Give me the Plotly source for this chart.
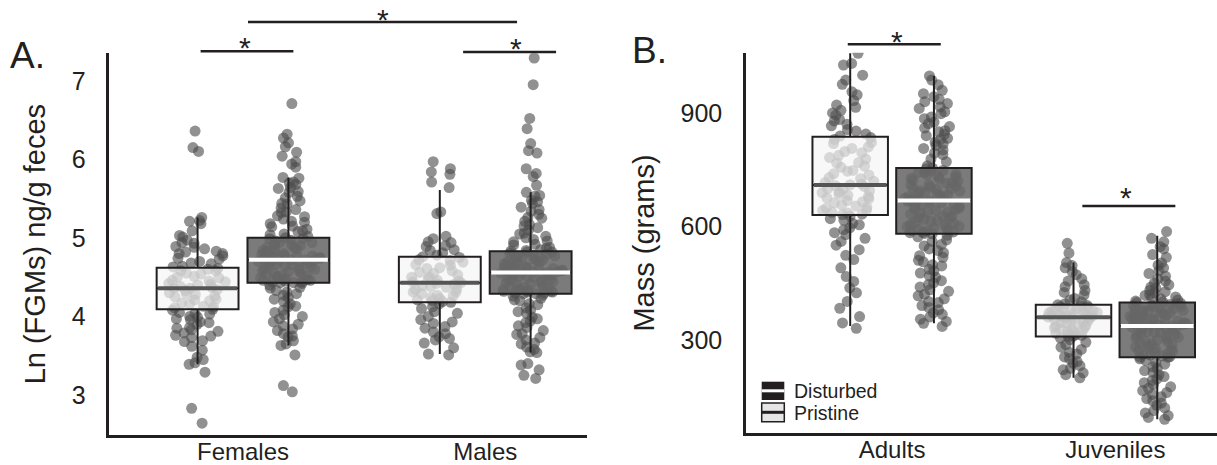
import plotly.graph_objects as go

FONT = "Liberation Sans, Arial, sans-serif"
INK = "#231f20"

# ---------------- categories / ticks ----------------
sexes = ["Females", "Males"]
ages = ["Adults", "Juveniles"]
fgm_ticks = [3, 4, 5, 6, 7]
mass_ticks = [300, 600, 900]
legend_labels = ["Disturbed", "Pristine"]

# ---------------- Panel A: Ln(FGMs) values ----------------
fgm_female_pristine = [6.36, 6.15, 6.10, 5.26, 5.22, 5.21, 5.18, 5.09, 5.03, 5.01, 4.97, 4.94, 4.93, 4.89, 4.88,
    4.86, 4.83, 4.82, 4.80, 4.80, 4.77, 4.74, 4.73, 4.70, 4.68, 4.67, 4.64, 4.63, 4.61, 4.60, 4.58, 4.58, 4.55,
    4.54, 4.51, 4.50, 4.49, 4.46, 4.45, 4.44, 4.42, 4.41, 4.40, 4.38, 4.37, 4.36, 4.36, 4.34, 4.33, 4.30, 4.29,
    4.28, 4.26, 4.25, 4.22, 4.21, 4.20, 4.17, 4.16, 4.13, 4.12, 4.11, 4.09, 4.08, 4.05, 4.04, 4.03, 4.00, 3.99,
    3.97, 3.96, 3.93, 3.92, 3.90, 3.86, 3.85, 3.83, 3.81, 3.79, 3.76, 3.75, 3.73, 3.69, 3.68, 3.62, 3.57, 3.48,
    3.45, 3.41, 3.39, 3.29, 2.83, 2.64]
fgm_female_disturbed = [6.71, 6.32, 6.27, 6.21, 6.16, 6.09, 6.04, 5.97, 5.94, 5.90,
    5.77, 5.76, 5.71, 5.70, 5.68, 5.64, 5.63, 5.59, 5.58, 5.53, 5.51, 5.47, 5.44, 5.43, 5.38, 5.36, 5.33, 5.32,
    5.28, 5.27, 5.24, 5.21, 5.20, 5.18, 5.15, 5.14, 5.11, 5.09, 5.08, 5.05, 5.04, 5.02,
    5.00, 4.99, 4.99, 4.97, 4.96, 4.94, 4.94, 4.92, 4.91, 4.90, 4.88, 4.88, 4.86, 4.85, 4.84, 4.83, 4.82, 4.80,
    4.80, 4.79, 4.78, 4.77, 4.77, 4.76, 4.75, 4.75, 4.74, 4.73, 4.73, 4.72, 4.72, 4.72,
    4.71, 4.70, 4.70, 4.69, 4.68, 4.67, 4.67, 4.66, 4.64, 4.64, 4.63, 4.61, 4.61, 4.60, 4.58, 4.58, 4.57, 4.55,
    4.55, 4.54, 4.52, 4.52, 4.51, 4.49, 4.49, 4.48, 4.47, 4.46, 4.46, 4.45, 4.44, 4.44, 4.43, 4.43,
    4.42, 4.40, 4.37, 4.36, 4.33, 4.31, 4.29, 4.27, 4.24, 4.22, 4.19, 4.16, 4.13, 4.12, 4.08, 4.05, 4.02, 4.00,
    3.97, 3.93, 3.90, 3.88, 3.84, 3.82, 3.78, 3.75, 3.74, 3.69, 3.65, 3.63, 3.51, 3.12, 3.04]
fgm_male_pristine = [5.97, 5.88, 5.84, 5.81, 5.71, 5.64, 5.33, 5.31, 5.02, 4.99, 4.95, 4.94, 4.90, 4.89, 4.85,
    4.84, 4.81, 4.78,
    4.76, 4.75, 4.72, 4.71, 4.69, 4.66, 4.65, 4.62, 4.61, 4.58, 4.56, 4.55, 4.53, 4.50, 4.50, 4.48, 4.46, 4.45,
    4.44, 4.43, 4.42, 4.41, 4.39, 4.38, 4.37, 4.35, 4.34, 4.31, 4.31, 4.29, 4.27, 4.26, 4.24, 4.23, 4.21, 4.20,
    4.19, 4.18,
    4.16, 4.12, 4.10, 4.06, 4.04, 4.00, 3.96, 3.93, 3.91, 3.87, 3.85, 3.80, 3.78, 3.74, 3.72, 3.70, 3.66, 3.60,
    3.52, 3.51]
fgm_male_disturbed = [7.29, 6.95, 6.52, 6.39, 6.20, 6.11, 6.08, 5.88, 5.82, 5.78, 5.67,
    5.58, 5.54, 5.53, 5.48, 5.46, 5.44, 5.39, 5.36, 5.34, 5.30, 5.26, 5.25, 5.21, 5.17, 5.15, 5.13, 5.10, 5.06,
    5.05, 5.02, 5.00, 4.98, 4.96, 4.95, 4.92, 4.91, 4.88, 4.87, 4.85, 4.84,
    4.83, 4.82, 4.82, 4.80, 4.79, 4.78, 4.77, 4.77, 4.75, 4.74, 4.73, 4.72, 4.72, 4.70, 4.69, 4.69, 4.67, 4.66,
    4.66, 4.65, 4.63, 4.63, 4.62, 4.61, 4.61, 4.60, 4.59, 4.59, 4.58, 4.58, 4.57, 4.57, 4.56, 4.56, 4.56,
    4.55, 4.54, 4.54, 4.53, 4.52, 4.51, 4.50, 4.50, 4.48, 4.47, 4.47, 4.45, 4.44, 4.43, 4.42, 4.41, 4.40, 4.39,
    4.38, 4.37, 4.36, 4.35, 4.34, 4.34, 4.33, 4.32, 4.32, 4.31, 4.31, 4.30, 4.30, 4.29, 4.29,
    4.27, 4.26, 4.23, 4.21, 4.20, 4.16, 4.15, 4.11, 4.08, 4.06, 4.04, 3.99, 3.97, 3.94, 3.92, 3.88, 3.86, 3.82,
    3.78, 3.77, 3.73, 3.70, 3.66, 3.65, 3.61, 3.58, 3.55, 3.54, 3.40, 3.38, 3.32, 3.25, 3.21]

# box statistics (Females, Males)
fgm_pristine_q1 = [4.09, 4.18]
fgm_pristine_median = [4.36, 4.43]
fgm_pristine_q3 = [4.62, 4.76]
fgm_pristine_low = [3.39, 3.52]
fgm_pristine_high = [5.26, 5.61]
fgm_disturbed_q1 = [4.43, 4.29]
fgm_disturbed_median = [4.72, 4.56]
fgm_disturbed_q3 = [5.00, 4.83]
fgm_disturbed_low = [3.63, 3.54]
fgm_disturbed_high = [5.77, 5.58]

# ---------------- Panel B: mass values ----------------
mass_adult_pristine = [1059, 1032, 1028, 1001, 988, 977, 957, 949, 934, 922, 916, 908, 901, 895, 884, 880, 871,
    867, 857, 853, 845, 840,
    836, 831, 823, 820, 811, 807, 799, 796, 789, 783, 779, 770, 768, 760, 757, 749, 747, 740, 737, 730, 727, 720,
    717, 713, 711,
    708, 706, 701, 699, 695, 692, 690, 686, 683, 680, 676, 674, 669, 666, 663, 658, 655, 651, 649, 644, 643, 638,
    636, 633, 632,
    628, 621, 617, 609, 605, 597, 592, 584, 579, 569, 561, 551, 539, 524, 513, 491, 468, 455, 438, 425, 402, 384,
    362, 345, 331]
mass_adult_disturbed = [999, 988, 976, 961, 952, 944, 937, 931, 926, 917, 913, 904, 899, 890, 886, 877, 873, 865,
    861, 854, 851, 844, 841, 834, 831, 824, 819, 815, 807, 803, 795, 791, 779, 772, 761,
    755, 753, 749, 748, 744, 743, 739, 738, 733, 732, 728, 726, 723, 721, 716, 715, 711, 710, 708, 705, 703, 700,
    699, 695, 694, 690, 689, 686, 684, 683, 680, 678, 676, 675, 673, 672, 670,
    668, 667, 664, 663, 659, 658, 654, 653, 649, 648, 645, 643, 639, 638, 634, 633, 628, 627, 624, 622, 619, 616,
    614, 611, 609, 606, 605, 601, 600, 597, 596, 593, 592, 590, 589, 586, 585, 584, 582, 581,
    577, 573, 565, 561, 553, 549, 541, 537, 531, 523, 519, 511, 507, 499, 496, 487, 483, 477, 470, 466, 457, 451,
    447, 440, 433, 429, 421, 417, 409, 402, 399, 391, 386, 380, 372, 368, 361, 355, 349, 344, 336]
mass_juvenile_pristine = [556, 530, 505, 497, 491, 481, 473, 462, 456, 446, 441, 431, 426, 419, 410, 406, 401, 396,
    393, 391, 390, 388, 386, 385, 383, 381, 380, 378, 376, 375, 373, 372, 370, 369, 367, 366, 365, 364, 363, 362,
    361, 360,
    359, 357, 355, 352, 350, 348, 346, 344, 341, 339, 337, 335, 332, 330, 328, 326, 323, 321, 318, 316, 314, 312,
    310, 309,
    305, 301, 294, 288, 281, 275, 267, 263, 255, 251, 243, 239, 232, 225, 221, 213, 208, 200]
mass_juvenile_disturbed = [587, 569, 560, 547, 541, 526, 519, 504, 498, 491, 483, 476, 469, 462, 456, 451, 446,
    440, 437, 431, 428, 425, 420, 418, 414, 412, 409, 406, 403, 401,
    399, 397, 396, 394, 392, 390, 389, 387, 385, 384, 382, 380, 378, 377, 375, 373, 371, 370, 368, 366, 365, 363,
    361, 360, 358, 356, 355, 353, 351, 350, 348, 346, 345, 343, 342, 340, 339, 338, 337,
    336, 334, 332, 330, 328, 326, 323, 321, 319, 317, 314, 312, 310, 307, 305, 302, 300, 297, 295, 292, 290, 287,
    285, 282, 280, 277, 275, 272, 270, 267, 265, 262, 260, 258, 256, 255, 254,
    250, 246, 240, 236, 229, 225, 219, 214, 208, 203, 197, 193, 187, 182, 176, 172, 166, 161, 156, 150, 145, 139,
    133, 127, 120, 113, 107, 100, 95, 90]

mass_pristine_q1 = [631, 309]
mass_pristine_median = [710, 360]
mass_pristine_q3 = [838, 393]
mass_pristine_low = [337, 200]
mass_pristine_high = [1059, 505]
mass_disturbed_q1 = [581, 254]
mass_disturbed_median = [669, 337]
mass_disturbed_q3 = [755, 399]
mass_disturbed_low = [344, 90]
mass_disturbed_high = [999, 576]

# ---------------- styling ----------------
OFF = 0.1875      # dodge offset (category units)
W = 0.338         # box width (category units)
PT_COLOR = "rgba(78,78,78,0.62)"
PRISTINE_FILL = "rgba(243,245,243,0.70)"
DISTURBED_FILL = "rgba(105,105,105,0.88)"
PRISTINE_MED = "#555555"
DISTURBED_MED = "#ffffff"

fig = go.Figure()


def add_points(vals, xpos, xa, ya):
    fig.add_trace(go.Box(
        y=vals, x0=xpos, boxpoints="all", jitter=0.78, pointpos=0, width=W,
        fillcolor="rgba(0,0,0,0)", line=dict(color="rgba(0,0,0,0)", width=0),
        marker=dict(color=PT_COLOR, size=11, line=dict(width=0)),
        xaxis=xa, yaxis=ya, showlegend=False, hoverinfo="y"))


def add_boxes(xs, q1, med, q3, lo, hi, fill, medcol, xa, ya, name):
    fig.add_trace(go.Box(
        x=xs, q1=q1, median=med, q3=q3, lowerfence=lo, upperfence=hi,
        width=W, fillcolor=fill, line=dict(color=INK, width=2), whiskerwidth=0,
        boxpoints=False, xaxis=xa, yaxis=ya, name=name, showlegend=False))
    mx, my = [], []
    eps = 0.006
    for x, m in zip(xs, med):
        mx += [x - W / 2 + eps, x + W / 2 - eps, None]
        my += [m, m, None]
    fig.add_trace(go.Scatter(x=mx, y=my, mode="lines", line=dict(color=medcol, width=4),
                             xaxis=xa, yaxis=ya, showlegend=False, hoverinfo="skip"))


# Panel A
add_points(fgm_female_pristine, 1 - OFF, "x", "y")
add_points(fgm_female_disturbed, 1 + OFF, "x", "y")
add_points(fgm_male_pristine, 2 - OFF, "x", "y")
add_points(fgm_male_disturbed, 2 + OFF, "x", "y")
add_boxes([1 - OFF, 2 - OFF], fgm_pristine_q1, fgm_pristine_median, fgm_pristine_q3,
          fgm_pristine_low, fgm_pristine_high, PRISTINE_FILL, PRISTINE_MED, "x", "y", "Pristine")
add_boxes([1 + OFF, 2 + OFF], fgm_disturbed_q1, fgm_disturbed_median, fgm_disturbed_q3,
          fgm_disturbed_low, fgm_disturbed_high, DISTURBED_FILL, DISTURBED_MED, "x", "y", "Disturbed")

# Panel B
add_points(mass_adult_pristine, 1 - OFF, "x2", "y2")
add_points(mass_adult_disturbed, 1 + OFF, "x2", "y2")
add_points(mass_juvenile_pristine, 2 - OFF, "x2", "y2")
add_points(mass_juvenile_disturbed, 2 + OFF, "x2", "y2")
add_boxes([1 - OFF, 2 - OFF], mass_pristine_q1, mass_pristine_median, mass_pristine_q3,
          mass_pristine_low, mass_pristine_high, PRISTINE_FILL, PRISTINE_MED, "x2", "y2", "Pristine")
add_boxes([1 + OFF, 2 + OFF], mass_disturbed_q1, mass_disturbed_median, mass_disturbed_q3,
          mass_disturbed_low, mass_disturbed_high, DISTURBED_FILL, DISTURBED_MED, "x2", "y2", "Disturbed")

axis_common = dict(showline=True, linecolor=INK, linewidth=2.5, showgrid=False, zeroline=False,
                   ticks="", automargin=False, tickfont=dict(family=FONT, size=25, color=INK))
cat_font = dict(family=FONT, size=24, color=INK)

fig.update_layout(
    width=1217, height=465, margin=dict(l=0, r=0, t=0, b=0, pad=0, autoexpand=False),
    paper_bgcolor="white", plot_bgcolor="white", boxmode="overlay", showlegend=False,
    font=dict(family=FONT, color=INK),
    xaxis=dict(axis_common, domain=[0.0898, 0.4823], range=[0.448, 2.42], tickvals=[1, 2],
               ticktext=sexes, anchor="y", ticklabelstandoff=-7, tickfont=cat_font),
    yaxis=dict(axis_common, domain=[0.0645, 0.8854], range=[2.49, 7.35], tickvals=fgm_ticks,
               anchor="x", ticklabelstandoff=16,
               title=dict(text="Ln (FGMs) ng/g feces", font=dict(family=FONT, size=29, color=INK),
                          standoff=18)),
    xaxis2=dict(axis_common, domain=[0.613, 1.0], range=[0.346, 2.455], tickvals=[1, 2],
                ticktext=ages, anchor="y2", ticklabelstandoff=-7, tickfont=cat_font),
    yaxis2=dict(axis_common, domain=[0.0682, 0.8867], range=[53, 1060.6], tickvals=mass_ticks,
                anchor="x2", ticklabelstandoff=16,
                title=dict(text="Mass (grams)", font=dict(family=FONT, size=29, color=INK), standoff=18)),
)

H = 465.0
W_PX = 1217.0


def py(ypix):
    return 1 - ypix / H


# significance bars
bars = [("x", 0.825, 1.208, 51.3), ("x", 1.9087, 2.2925, 52.0), ("x", 1.0206, 2.1315, 22.0),
        ("x2", 0.8016, 1.218, 44.3), ("x2", 1.852, 2.2685, 206.0)]
for xr, x0, x1, yp in bars:
    fig.add_shape(type="line", xref=xr, yref="paper", x0=x0, x1=x1, y0=py(yp), y1=py(yp),
                  line=dict(color=INK, width=2.5))
stars = [("x", 1.0083, 42.5), ("x", 2.1255, 43.3), ("x", 1.5778, 14.0), ("x2", 1.021, 36.7), ("x2", 2.048, 192.3)]
for xr, xv, yp in stars:
    fig.add_annotation(text="*", xref=xr, yref="paper", x=xv, y=py(yp + 5), showarrow=False,
                       xanchor="center", yanchor="middle", font=dict(family=FONT, size=30, color=INK))

# panel letters
fig.add_annotation(text="A.", xref="paper", yref="paper", x=8 / W_PX, y=py(55), showarrow=False,
                   xanchor="left", yanchor="middle", font=dict(family=FONT, size=37, color=INK))
fig.add_annotation(text="B.", xref="paper", yref="paper", x=630 / W_PX, y=py(51), showarrow=False,
                   xanchor="left", yanchor="middle", font=dict(family=FONT, size=37, color=INK))

# legend (drawn)
kx0, kx1 = 761.7 / W_PX, 784.3 / W_PX
fig.add_shape(type="rect", xref="paper", yref="paper", x0=kx0, x1=kx1, y0=py(400), y1=py(381.7),
              fillcolor=INK, line=dict(width=0))
fig.add_shape(type="line", xref="paper", yref="paper", x0=kx0, x1=kx1, y0=py(390.8), y1=py(390.8),
              line=dict(color="white", width=3))
fig.add_shape(type="rect", xref="paper", yref="paper", x0=kx0, x1=kx1, y0=py(421.7), y1=py(403),
              fillcolor="#e6e6e6", line=dict(color=INK, width=1.5))
fig.add_shape(type="line", xref="paper", yref="paper", x0=kx0, x1=kx1, y0=py(412.3), y1=py(412.3),
              line=dict(color=INK, width=3))
fig.add_annotation(text=legend_labels[0], xref="paper", yref="paper", x=792 / W_PX, y=py(391), showarrow=False,
                   xanchor="left", yanchor="middle", font=dict(family=FONT, size=19.5, color=INK))
fig.add_annotation(text=legend_labels[1], xref="paper", yref="paper", x=792 / W_PX, y=py(412.5), showarrow=False,
                   xanchor="left", yanchor="middle", font=dict(family=FONT, size=19.5, color=INK))

# the page's default body margin would shift the fixed-size figure; remove it
fig.write_html("out.html", config={"displayModeBar": False},
               post_script="document.body.style.margin='0';document.body.style.overflow='hidden';")
